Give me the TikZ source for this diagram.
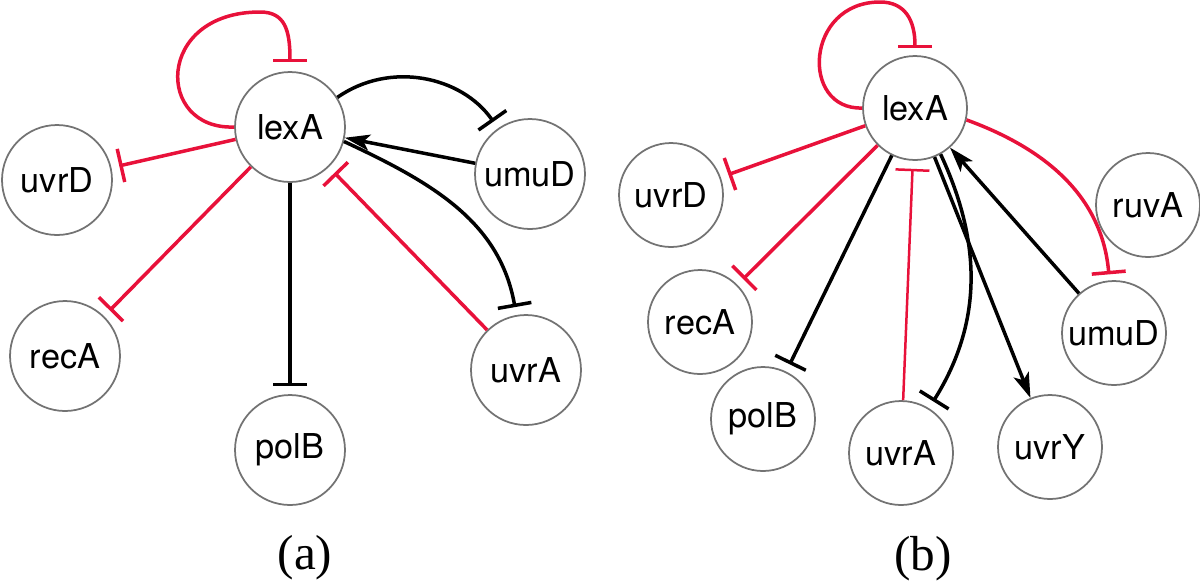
\documentclass[tikz,border=0pt]{standalone}
\usepackage{fontspec}
\setmainfont{Liberation Serif}
\setsansfont{TeX Gyre Heros}
\usetikzlibrary{arrows.meta}
\definecolor{repred}{RGB}{232,17,58}
\definecolor{ringgray}{RGB}{115,115,115}
\tikzset{
    gene/.style={circle, draw=ringgray, line width=0.035cm, minimum size=#1, inner sep=0pt, font=\sffamily\fontsize{19.5}{22}\selectfont},
    gene/.default=2.2cm,
    arrow/.style={-{Stealth[length=0.5cm, width=0.32cm, inset=0.12cm]}, line width=0.07cm, black},
    repress/.style={-{Bar[width=0.68cm]}, line width=0.07cm, black, shorten >=0.16cm},
    panel/.style={font=\fontsize{28}{32}\selectfont},
}

\begin{document}
\begin{tikzpicture}[x=0.02cm, y=0.02cm]
\useasboundingbox (0,0) rectangle (1200,-583);

% Panel (a) nodes
\node[gene] (a-lexA) at (290,-127) {lexA};
\node[gene] (a-uvrD) at (57,-180) {uvrD};
\node[gene] (a-recA) at (65,-356) {recA};
\node[gene] (a-polB) at (290,-450) {polB};
\node[gene] (a-uvrA) at (526,-370) {uvrA};
\node[gene] (a-umuD) at (530,-174) {umuD};
\node[panel] (a-label) at (305,-558) {(a)};

% Panel (a) edges
\draw[repress, repred, shorten >=0.18cm] (a-lexA.west) .. controls (155,-130) and (155,-12) .. (260,-12) .. controls (285,-12) and (290,-30) .. (a-lexA.north);
\draw[repress, repred] (a-lexA) -- (a-uvrD);
\draw[repress, repred] (a-lexA) -- (a-recA);
\draw[repress] (a-lexA) -- (a-polB);
\draw[repress, repred] (a-uvrA) -- (a-lexA);
\draw[repress] (a-lexA.32) to[out=35, in=125] (a-umuD);
\draw[arrow] (a-umuD) -- (a-lexA);
\draw[repress] (a-lexA.-15) to[out=-25, in=100] (a-uvrA);

% Panel (b) nodes
\node[gene=2.08cm] (b-lexA) at (915,-108) {lexA};
\node[gene=2.08cm] (b-uvrD) at (671,-195) {uvrD};
\node[gene=2.08cm] (b-ruvA) at (1148,-205) {ruvA};
\node[gene=2.08cm] (b-recA) at (700,-322) {recA};
\node[gene=2.08cm] (b-polB) at (763,-419) {polB};
\node[gene=2.08cm] (b-uvrA) at (901,-453) {uvrA};
\node[gene=2.08cm] (b-uvrY) at (1050,-447) {uvrY};
\node[gene=2.08cm] (b-umuD) at (1114,-333) {umuD};
\node[panel] (b-label) at (923,-559) {(b)};

% Panel (b) edges
\draw[repress, repred, shorten >=0.14cm] (b-lexA.west) .. controls (800,-110) and (805,-2) .. (880,-2) .. controls (905,-2) and (915,-20) .. (b-lexA.north);
\draw[repress, repred] (b-lexA) -- (b-uvrD);
\draw[repress, repred] (b-lexA) -- (b-recA);
\draw[repress] (b-lexA) -- (b-polB);
\draw[repress, repred, line width=0.05cm] (b-uvrA) -- (b-lexA);
\draw[repress] (b-lexA.-61) to[out=-65, in=58] (b-uvrA);
\draw[arrow] (b-lexA) -- (b-uvrY);
\draw[arrow] (b-umuD) -- (b-lexA);
\draw[repress, repred, shorten >=0.12cm] (b-lexA.-13) to[out=-20, in=95] (b-umuD);

\end{tikzpicture}
\end{document}
